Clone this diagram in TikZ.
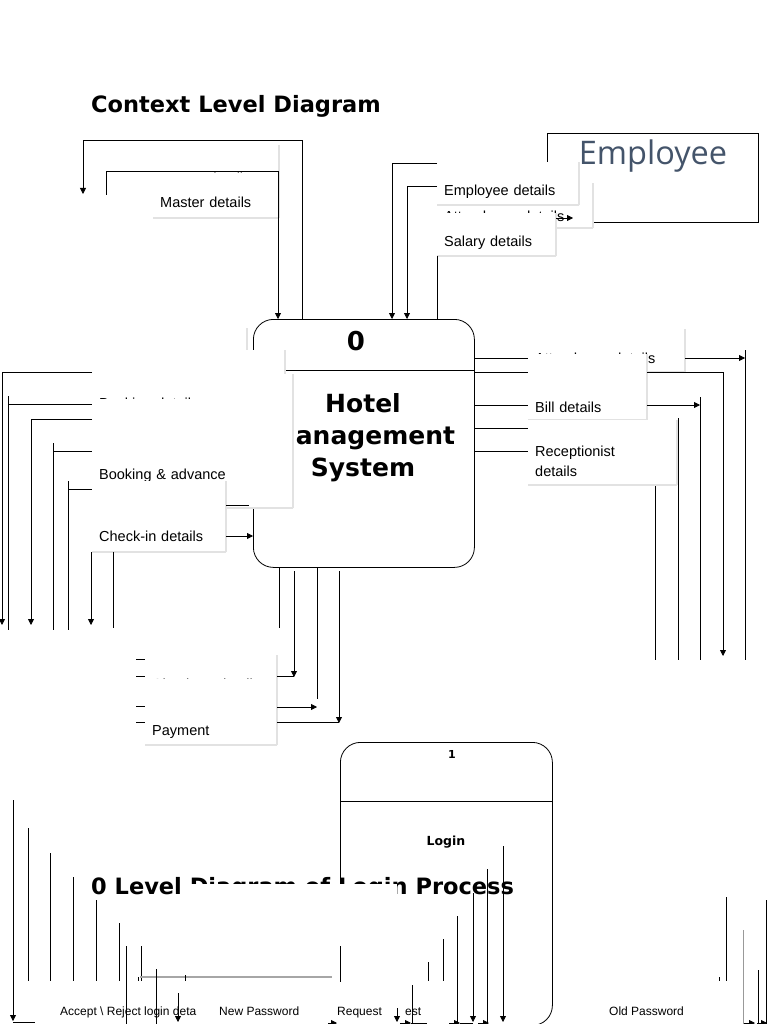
\documentclass[tikz,border=0pt]{standalone}
\usepackage{fontspec}
\setmainfont{DejaVu Sans}
\newfontfamily\lblfont{Liberation Sans}
\newfontfamily\empfont{Open Sans}
\usepackage{tikz}
\usetikzlibrary{arrows.meta}
\definecolor{empcol}{RGB}{68,84,106}
\definecolor{rimgray}{RGB}{226,226,226}

\tikzset{
  wire/.style={line width=0.8pt},
  flow/.style={wire,-{Triangle[length=6pt,width=6pt]}},
  rim/.style={draw=rimgray,line width=2pt},
  lbl/.style n args={3}{fill=white,anchor=north west,inner xsep=7pt,inner ysep=0pt,
    align=left,text width=#1,text height=#2,text depth=#3,
    font=\lblfont\fontsize{14.5}{20}\selectfont,
    append after command={(\tikzlastnode.north east) edge[rim] (\tikzlastnode.south east)
      (\tikzlastnode.south east) edge[rim] (\tikzlastnode.south west)}},
  proc/.style={draw,line width=0.8pt,rounded corners=20pt,anchor=north west},
  heading/.style={anchor=base west,inner sep=0pt,font=\bfseries\fontsize{22.5}{26}\selectfont},
  foot/.style={anchor=base west,inner sep=0pt,font=\lblfont\fontsize{12}{14}\selectfont}
}

\begin{document}
\begin{tikzpicture}[x=1pt,y=-1pt]
\useasboundingbox (0,0) rectangle (768,1024);

\node[heading] (ctxtitle) at (91,113) {Context Level Diagram};

\node[draw,line width=0.8pt,minimum width=211pt,minimum height=89pt,anchor=north west] (emprect) at (547,133) {};
\node[font=\empfont\fontsize{32.5}{38}\selectfont,text=empcol] (emptxt) at (653,156) {Employee};

\node[proc,minimum width=221pt,minimum height=248pt] (hms) at (253,319) {};
\draw[wire] (hms.west |- 0,370) -- (hms.east |- 0,370);
\node[font=\bfseries\fontsize{26}{30}\selectfont] (hmsnum) at (356,341) {0};
\node[align=center,font=\bfseries\fontsize{25}{32}\selectfont] (hmstxt) at (363,438) {Hotel\\Management\\System};

\node[lbl={112pt}{38pt}{7pt}] (rep) at (153,145) {Report details};
\node[lbl={112pt}{34pt}{11pt}] (mst) at (153,173) {Master details};

\node[lbl={142pt}{38pt}{7pt}] (att) at (437,183) {Attendance details};
\node[lbl={128pt}{33pt}{10pt}] (emp) at (437,162) {Employee details};
\node[lbl={105pt}{33pt}{10pt}] (sal) at (437,213) {Salary details};

\node[lbl={83pt}{24pt}{0pt}] (lbla) at (150,328) {};
\node[lbl={121pt}{26pt}{0pt}] (lblb) at (150,350) {};
\node[lbl={187pt}{34pt}{2pt}] (bkd) at (92,374) {Booking details};
\node[lbl={187pt}{80pt}{29pt}] (bka) at (92,399) {Booking \& advance};
\node[lbl={120pt}{60pt}{11pt}] (chk) at (92,481) {Check-in details};

\node[lbl={118pt}{34pt}{11pt}] (cko) at (145,655) {Checkout details};
\node[lbl={118pt}{56pt}{10pt}] (pay) at (145,679) {Payment};

\node[lbl={143pt}{34pt}{9pt}] (att2) at (528,329) {Attendance details};
\node[lbl={105pt}{58pt}{8pt}] (bil) at (528,354) {Bill details};
\node[lbl={135pt}{36pt}{29pt}] (rcp) at (528,420) {Receptionist\\details};

\draw[flow] (302,0 |- hms.north) |- (83,140) -- (83,194);
\draw[flow] (106,195) |- (278,171) -- (278,0 |- hms.north);

\draw[flow] (emp.west |- 0,163) -| (392,0 |- hms.north);
\draw[flow] (emp.west |- 0,186) -| (407,0 |- hms.north);
\draw[wire] (sal.south west) -- (sal.west |- hms.north);
\draw[flow] (sal.east |- 0,218) -- (573,218);

\draw[flow] (bkd.west |- 0,372) -| (2,625);
\draw[wire] (8,396) -- (8,630);
\draw[wire] (8,404) -- (bkd.west |- 0,404);
\draw[flow] (bkd.west |- 0,419) -| (31,625);
\draw[wire] (53,443) -- (53,630);
\draw[wire] (53,451) -- (bkd.west |- 0,451);
\draw[wire] (68,481) -- (68,630);
\draw[wire] (68,489) -- (bkd.west |- 0,489);
\draw[wire] (chk.east |- 0,505) -- (249,505);
\draw[flow] (chk.east |- 0,536) -- (hms.west |- 0,536);
\draw[flow] (91,0 |- chk.south) -- (91,625);
\draw[wire] (113,0 |- chk.south) -- (113,628);

\draw[wire] (279,0 |- hms.south) -- (279,628);
\draw[flow] (294,571) -- (294,677);
\draw[wire] (pay.east |- 0,676) -- (294,676);
\draw[wire] (317,0 |- hms.south) -- (317,699);
\draw[flow] (pay.east |- 0,707) -- (317,707);
\draw[flow] (339,571) -- (339,723);
\draw[wire] (pay.east |- 0,722) -- (339,722);
\draw[wire] (136,659) -- (pay.west |- 0,659);
\draw[wire] (136,676) -- (pay.west |- 0,676);
\draw[wire] (136,706) -- (pay.west |- 0,706);
\draw[wire] (136,722) -- (pay.west |- 0,722);

\draw[wire] (hms.east |- 0,358) -- (att2.west |- 0,358);
\draw[flow] (att2.east |- 0,358) -- (745,358);
\draw[wire] (745,350) -- (745,660);
\draw[wire] (hms.east |- 0,372) -- (bil.west |- 0,372);
\draw[flow] (bil.east |- 0,372) -| (723,656);
\draw[wire] (hms.east |- 0,405) -- (bil.west |- 0,405);
\draw[flow] (bil.east |- 0,405) -- (700,405);
\draw[wire] (700,397) -- (700,660);
\draw[wire] (hms.east |- 0,428) -- (rcp.west |- 0,428);
\draw[wire] (hms.east |- 0,451) -- (rcp.west |- 0,451);
\draw[wire] (678,418) -- (678,660);
\draw[wire] (655,486) -- (655,660);

\node[proc,minimum width=212pt,minimum height=283pt] (login) at (340,742) {};
\draw[wire] (login.west |- 0,801) -- (login.east |- 0,801);
\node[font=\bfseries\fontsize{11}{13}\selectfont] (lognum) at (452,754) {1};
\node[font=\bfseries\fontsize{12.5}{15}\selectfont] (logtxt) at (446,842) {Login};

\node[heading] (lvltitle) at (91,894) {0 Level Diagram of Login Process};
\fill[white] (188,884) rectangle (397,946);
\fill[white] (0,982) rectangle (535,1024);

\node[foot] (accrej) at (60,1015) {Accept \textbackslash{} Reject login deta};
\node[foot] (newpw) at (219,1015) {New Password};
\node[foot] (req) at (337,1015) {Request};
\node[foot] (reqend) at (405,1015) {est};
\node[foot] (oldpw) at (609,1015) {Old Password};

\draw[flow] (13,800) -- (13,1021);
\draw[wire] (13,1022) -- (35,1022);
\draw[wire] (28,828) -- (28,981);
\draw[wire] (50,853) -- (50,981);
\draw[wire] (73,877) -- (73,981);
\draw[wire] (96,900) -- (96,981);
\draw[wire] (119,923) -- (119,981);
\draw[wire] (126,946) -- (126,1024);
\draw[wire] (141,946) -- (141,981);
\draw[wire] (138,977) -- (138,981);
\draw[draw=gray!70,line width=1.2pt] (140,977) -- (332,977);
\draw[wire] (185,975) -- (185,981);
\draw[wire] (156,969) -- (156,1024);
\draw[flow] (178,993) -- (178,1022);
\draw[flow] (397,1008) -- (397,1022);
\draw[wire] (412,985) -- (412,1024);
\draw[wire] (428,962) -- (428,981);
\draw[wire] (443,939) -- (443,981);
\draw[wire] (457,916) -- (457,1024);
\draw[flow] (473,893) -- (473,1022);
\draw[wire] (487,869) -- (487,1024);
\draw[flow] (503,846) -- (503,1022);
\draw[flow] (328,1023) -- (337,1023);
\draw[flow] (400,1023) -- (411,1023);
\draw[wire] (411,1023) -- (427,1023);
\draw[flow] (449,1023) -- (460,1023);
\draw[wire] (460,1023) -- (473,1023);
\draw[flow] (478,1023) -- (489,1023);

\draw[wire] (726,897) -- (726,981);
\draw[wire] (719,977) -- (719,981);
\draw[draw=gray!80,line width=1pt] (743,930) -- (743,1024);
\draw[wire] (758,970) -- (758,1024);
\draw[wire] (766,900) -- (766,1024);
\draw[flow] (744,1023) -- (755,1023);
\draw[flow] (757,1023) -- (767,1023);
\end{tikzpicture}
\end{document}
